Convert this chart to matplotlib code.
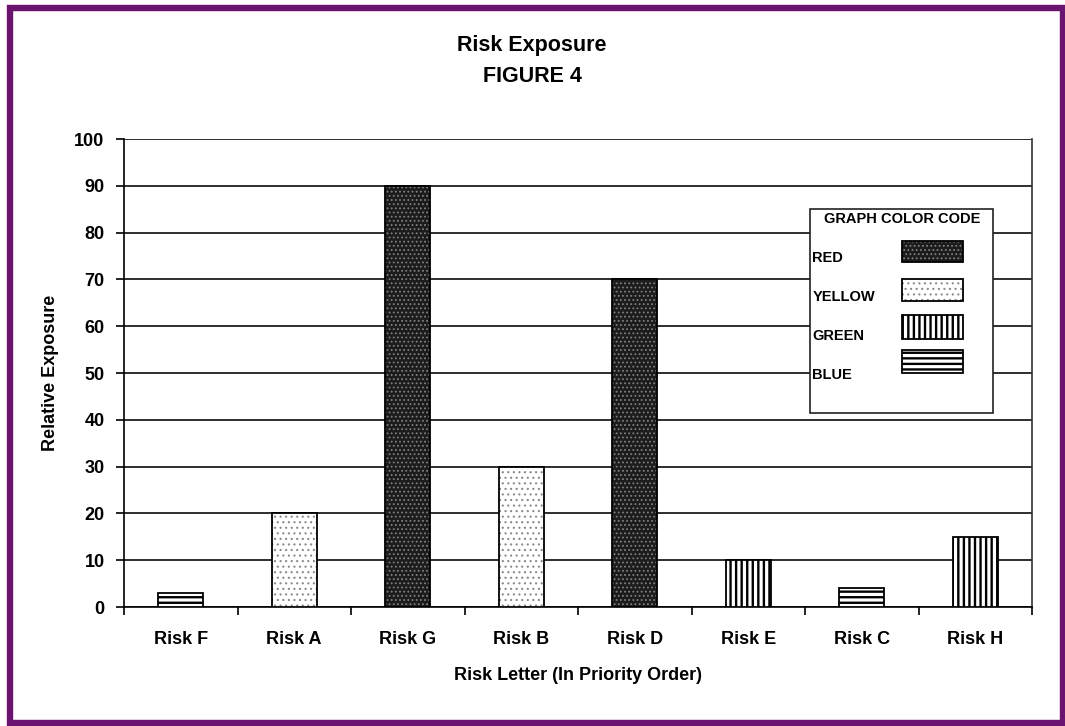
import matplotlib
matplotlib.use("Agg")
import matplotlib.pyplot as plt
from matplotlib.patches import Rectangle

plt.rcParams['font.family'] = ['Liberation Sans', 'DejaVu Sans']
plt.rcParams['font.weight'] = 'bold'

# Chart data
categories = ["Risk F", "Risk A", "Risk G", "Risk B", "Risk D", "Risk E", "Risk C", "Risk H"]
exposure = [3, 20, 90, 30, 70, 10, 4, 15]
color_codes = ["BLUE", "YELLOW", "RED", "YELLOW", "RED", "GREEN", "BLUE", "GREEN"]
yticks = [0, 10, 20, 30, 40, 50, 60, 70, 80, 90, 100]
legend_order = ["RED", "YELLOW", "GREEN", "BLUE"]

# Fill style for each colour code: face colour, hatch, hatch colour, hatch width
styles = {
    "RED":    dict(face="#1c1c1c", hatch="....", hcolor="#808080", hlw=0.8),
    "YELLOW": dict(face="white",   hatch="...",  hcolor="#8a8a8a", hlw=0.8),
    "GREEN":  dict(face="white",   hatch="|||",  hcolor="black",   hlw=1.7),
    "BLUE":   dict(face="white",   hatch="---",  hcolor="black",   hlw=1.7),
}


def hatched_rect(ax, xy, w, h, code, transform=None, zorder=3):
    st = styles[code]
    kw = {} if transform is None else {"transform": transform}
    with plt.rc_context({"hatch.linewidth": st["hlw"]}):
        r = Rectangle(xy, w, h, facecolor=st["face"], edgecolor=st["hcolor"],
                      hatch=st["hatch"], linewidth=0, zorder=zorder, **kw)
    ax.add_patch(r)
    ax.add_patch(Rectangle(xy, w, h, fill=False, edgecolor="black",
                           linewidth=1.3, zorder=zorder + 0.1, **kw))


fig = plt.figure(figsize=(10.65, 7.26), dpi=100)
ax = fig.add_axes([124 / 1065, 1 - 607 / 726, 908 / 1065, 468 / 726])

x = list(range(len(categories)))
bar_w = 0.4
for xi, val, code in zip(x, exposure, color_codes):
    hatched_rect(ax, (xi - bar_w / 2, 0), bar_w, val, code)

ax.set_xlim(-0.5, len(categories) - 0.5)
ax.set_ylim(0, 100)
ax.set_yticks(yticks)
ax.set_yticklabels([str(v) for v in yticks], fontsize=13, fontweight="bold")
ax.set_xticks(x)
ax.set_xticklabels(categories, fontsize=13, fontweight="bold")
ax.set_xticks([i - 0.5 for i in range(len(categories) + 1)], minor=True)
ax.tick_params(axis="x", which="major", length=0, pad=17)
ax.tick_params(axis="x", which="minor", length=6, width=1.2, direction="out")
ax.tick_params(axis="y", length=6, width=1.2, direction="out", pad=8)

ax.yaxis.grid(True, color="#151515", linewidth=1.25, zorder=0)
ax.set_axisbelow(True)
ax.spines["top"].set_visible(False)
ax.spines["right"].set_color("#333333")
for s in ["left", "bottom", "right"]:
    ax.spines[s].set_linewidth(1.2)

ax.set_ylabel("Relative Exposure", fontsize=13, fontweight="bold", labelpad=11)
ax.set_xlabel("Risk Letter (In Priority Order)", fontsize=13, fontweight="bold", labelpad=14)

fig.text(0.4995, 1 - 46 / 726, "Risk Exposure", ha="center", va="center",
         fontsize=15.5, fontweight="bold")
fig.text(0.4995, 1 - 76 / 726, "FIGURE 4", ha="center", va="center",
         fontsize=15.5, fontweight="bold")

# Colour code key
T = ax.transAxes
ax.add_patch(Rectangle((0.7555, 0.4145), 0.2015, 0.4355, facecolor="white",
                       edgecolor="#222222", linewidth=1.2, transform=T, zorder=5))
ax.text(0.8565, 0.829, "GRAPH COLOR CODE", transform=T, ha="center", va="center",
        fontsize=10.5, fontweight="bold", zorder=6)
label_y = [0.746, 0.6625, 0.579, 0.496]
patch_y = [(0.737, 0.782), (0.654, 0.701), (0.573, 0.624), (0.500, 0.549)]
for code, ly, (y0, y1) in zip(legend_order, label_y, patch_y):
    ax.text(0.758, ly, code, transform=T, ha="left", va="center",
            fontsize=10.5, fontweight="bold", zorder=6)
    hatched_rect(ax, (0.857, y0), 0.067, y1 - y0, code, transform=T, zorder=6)

# Purple page frame
fig.patches.append(Rectangle((10 / 1065, 1 - 723 / 726), 1053 / 1065, 715 / 726,
                             fill=False, edgecolor="#6a1470", linewidth=4.6,
                             transform=fig.transFigure, figure=fig))

fig.savefig("out.png", dpi=100)
